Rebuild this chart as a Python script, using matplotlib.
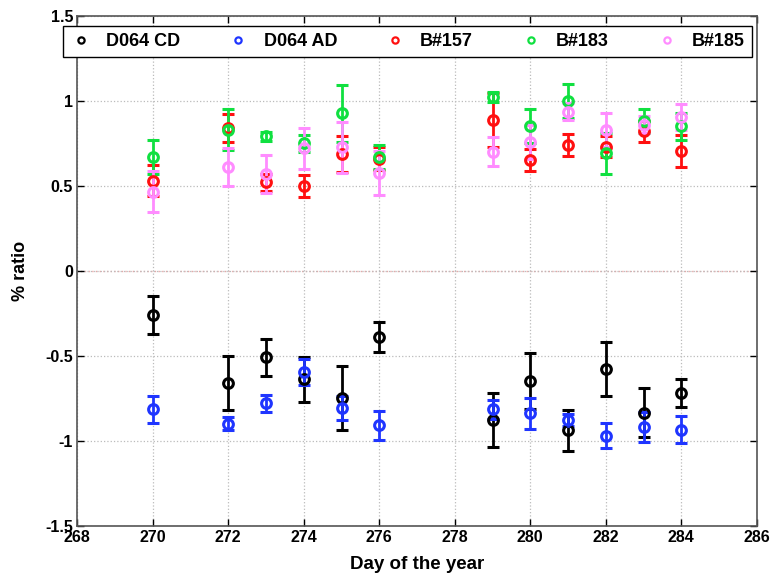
import matplotlib
matplotlib.use('Agg')
import matplotlib.pyplot as plt

days_a = [270, 272, 273, 274, 275, 276, 279, 280, 281, 282, 283, 284]

# D064 CD
cd_val = [-0.26, -0.66, -0.51, -0.64, -0.75, -0.39, -0.88, -0.65, -0.94, -0.58, -0.835, -0.72]
cd_err = [0.11, 0.16, 0.11, 0.13, 0.19, 0.09, 0.16, 0.165, 0.12, 0.16, 0.145, 0.08]
# D064 AD
ad_val = [-0.815, -0.90, -0.78, -0.595, -0.81, -0.91, -0.815, -0.84, -0.88, -0.97, -0.92, -0.935]
ad_err = [0.08, 0.04, 0.05, 0.075, 0.07, 0.085, 0.055, 0.09, 0.035, 0.075, 0.09, 0.08]
# B#157
b157_val = [0.53, 0.84, 0.52, 0.50, 0.685, 0.66, 0.885, 0.65, 0.74, 0.73, 0.82, 0.705]
b157_err = [0.09, 0.08, 0.05, 0.065, 0.105, 0.07, 0.16, 0.065, 0.065, 0.06, 0.06, 0.095]
# B#183
b183_val = [0.67, 0.83, 0.79, 0.75, 0.925, 0.67, 1.02, 0.85, 1.0, 0.69, 0.88, 0.85]
b183_err = [0.10, 0.12, 0.025, 0.05, 0.17, 0.07, 0.03, 0.10, 0.10, 0.12, 0.07, 0.08]
# B#185
b185_val = [0.465, 0.61, 0.57, 0.72, 0.725, 0.575, 0.70, 0.76, 0.935, 0.83, 0.86, 0.905]
b185_err = [0.12, 0.11, 0.11, 0.12, 0.15, 0.13, 0.085, 0.10, 0.05, 0.10, 0.05, 0.075]

series = [
    ('D064 CD', cd_val, cd_err, 'black'),
    ('D064 AD', ad_val, ad_err, '#1f35ff'),
    ('B#157', b157_val, b157_err, '#ff1010'),
    ('B#183', b183_val, b183_err, '#10e040'),
    ('B#185', b185_val, b185_err, '#ff8cff'),
]

x_ticks = [268, 270, 272, 274, 276, 278, 280, 282, 284, 286]
y_ticks = [-1.5, -1, -0.5, 0, 0.5, 1, 1.5]
y_tick_labels = ['-1.5', '-1', '-0.5', '0', '0.5', '1', '1.5']

plt.rcParams['font.family'] = ['Liberation Sans', 'DejaVu Sans']
plt.rcParams['font.weight'] = 'bold'

fig = plt.figure(figsize=(7.73, 5.84), dpi=100)
ax = fig.add_axes([0.100, 0.1, 0.879, 0.873])

ax.axhline(0, color='#e8a8a8', linestyle=':', linewidth=1, zorder=1)

handles = []
for name, vals, errs, colour in series:
    ax.errorbar(days_a, vals, yerr=errs, fmt='o', color=colour, ms=7,
                mfc='none', mec=colour, mew=2.2, elinewidth=2.0,
                capsize=4.2, capthick=2.0, zorder=3)
    h, = ax.plot([], [], 'o', color=colour, ms=4.5, mfc='none', mew=1.6, label=name)
    handles.append(h)

ax.set_xlim(268, 286)
ax.set_ylim(-1.5, 1.5)
ax.set_xticks(x_ticks)
ax.set_yticks(y_ticks)
ax.set_yticklabels(y_tick_labels)
ax.tick_params(direction='in', top=True, right=True, length=5, width=1,
               labelsize=11.5, pad=3)
for lab in ax.get_xticklabels() + ax.get_yticklabels():
    lab.set_fontweight('bold')
ax.grid(True, linestyle=':', color='#bbbbbb', linewidth=0.9)
for sp in ax.spines.values():
    sp.set_color('#555555')
    sp.set_linewidth(1.2)

ax.set_xlabel('Day of the year', fontsize=13.5, fontweight='bold', labelpad=8)
ax.set_ylabel('% ratio', fontsize=13, fontweight='bold', labelpad=12)

leg = fig.legend(handles=handles, loc='lower left', ncol=5, mode='expand',
                 bbox_to_anchor=(0.0815, 0.902, 0.8915, 0.057),
                 borderaxespad=0, fancybox=False, framealpha=1,
                 edgecolor='black', fontsize=13, handlelength=1.2,
                 handletextpad=0.8, borderpad=0.4)
leg.get_frame().set_linewidth(1)

fig.savefig('out.png', dpi=100)
